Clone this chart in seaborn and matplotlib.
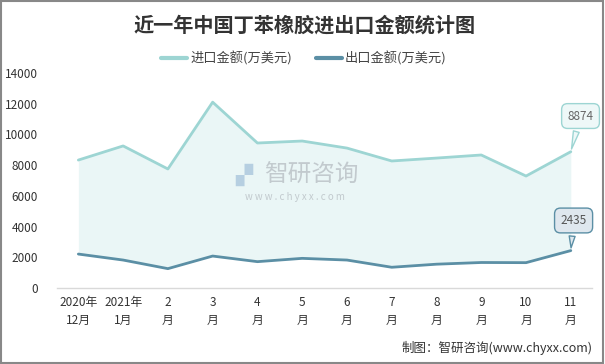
import matplotlib
matplotlib.use("Agg")
import matplotlib.pyplot as plt
import seaborn as sns
import pandas as pd
from matplotlib.lines import Line2D

sns.set_theme(style="white")
plt.rcParams['font.family'] = ['Noto Sans CJK SC', 'DejaVu Sans']

categories = ["2020年\n12月", "2021年\n1月", "2\n月", "3\n月", "4\n月", "5\n月", "6\n月",
              "7\n月", "8\n月", "9\n月", "10\n月", "11\n月"]
import_vals = [8330, 9250, 7750, 12100, 9440, 9570, 9110, 8270, 8460, 8660, 7290, 8874]
export_vals = [2210, 1820, 1260, 2080, 1715, 1930, 1820, 1350, 1550, 1660, 1650, 2435]
series_names = ["进口金额(万美元)", "出口金额(万美元)"]
yticks = [0, 2000, 4000, 6000, 8000, 10000, 12000, 14000]

imp_color = "#9dd5d3"
exp_color = "#5b8fa5"

df = pd.DataFrame({
    "x": list(range(len(categories))) * 2,
    "value": import_vals + export_vals,
    "series": [series_names[0]] * len(categories) + [series_names[1]] * len(categories),
})

fig = plt.figure(figsize=(6.05, 3.64), dpi=100)
ax = fig.add_axes([0.094, 0.2088, 0.885, 0.5907])

xs = list(range(len(categories)))
ax.fill_between(xs, export_vals, import_vals, color="#eaf6f6", zorder=1, linewidth=0)
sns.lineplot(data=df, x="x", y="value", hue="series",
             palette=[imp_color, exp_color], linewidth=2.0, ax=ax, legend=False, zorder=3)

ax.set_xlim(-0.48, len(categories) - 0.52)
ax.set_ylim(0, 14000)
ax.set_yticks(yticks)
ax.set_yticklabels([str(v) for v in yticks], fontsize=8.5, color="#333333")
ax.set_xticks(xs)
ax.set_xticklabels(categories, fontsize=8.5, color="#333333", linespacing=1.5)
ax.tick_params(axis="x", length=0, pad=6)
ax.tick_params(axis="y", length=0, pad=13.5)
ax.set_xlabel("")
ax.set_ylabel("")
for s in ["top", "right", "left"]:
    ax.spines[s].set_visible(False)
ax.spines["bottom"].set_color("#d9d9d9")
ax.spines["bottom"].set_linewidth(1)

# callouts
ax.annotate(f"{import_vals[-1]}", xy=(xs[-1], import_vals[-1]), xytext=(7, 21),
            textcoords="offset points", ha="center", va="bottom", fontsize=8.5, color="#666666",
            bbox=dict(boxstyle="round,pad=0.5", fc="#eef8f8", ec=imp_color, lw=1),
            arrowprops=dict(arrowstyle="wedge,tail_width=0.5", fc="#eef8f8", ec=imp_color, lw=1),
            zorder=5)
ax.annotate(f"{export_vals[-1]}", xy=(xs[-1], export_vals[-1]), xytext=(2, 17),
            textcoords="offset points", ha="center", va="bottom", fontsize=8.5, color="#555555",
            bbox=dict(boxstyle="round,pad=0.5", fc="#dfe7ee", ec=exp_color, lw=1),
            arrowprops=dict(arrowstyle="wedge,tail_width=0.5", fc="#dfe7ee", ec=exp_color, lw=1),
            zorder=5)

# watermark
fig.text(0.403, 0.519, "▞", fontsize=16, color="#a9c6dc", alpha=0.8, ha="center", va="center",
         family=["DejaVu Sans"])
fig.text(0.514, 0.519, "智研咨询", fontsize=17, color="#b8bfc4", alpha=0.8, ha="center", va="center")
fig.text(0.488, 0.46, "w w w . c h y x x . c o m", fontsize=7, color="#b8bfc4", alpha=0.8,
         ha="center", va="center")

# title
fig.text(0.503, 0.931, "近一年中国丁苯橡胶进出口金额统计图", fontsize=14.5, fontweight="bold",
         color="#333333", ha="center", va="center")

# legend
handles = [Line2D([0], [0], color=imp_color, lw=3), Line2D([0], [0], color=exp_color, lw=3)]
fig.legend(handles, series_names, loc="center", bbox_to_anchor=(0.502, 0.84), ncol=2,
           frameon=False, fontsize=9.5, handlelength=2.0, columnspacing=1.8, handletextpad=0.2,
           labelcolor="#444444")

# source
fig.text(0.98, 0.044, "制图：智研咨询(www.chyxx.com)", fontsize=9, color="#333333",
         ha="right", va="center")

fig.patches.append(plt.Rectangle((0.002, 0.003), 0.995, 0.994, transform=fig.transFigure,
                                 fill=False, ec="#888888", lw=1.5))

fig.savefig("out.png", dpi=100)
